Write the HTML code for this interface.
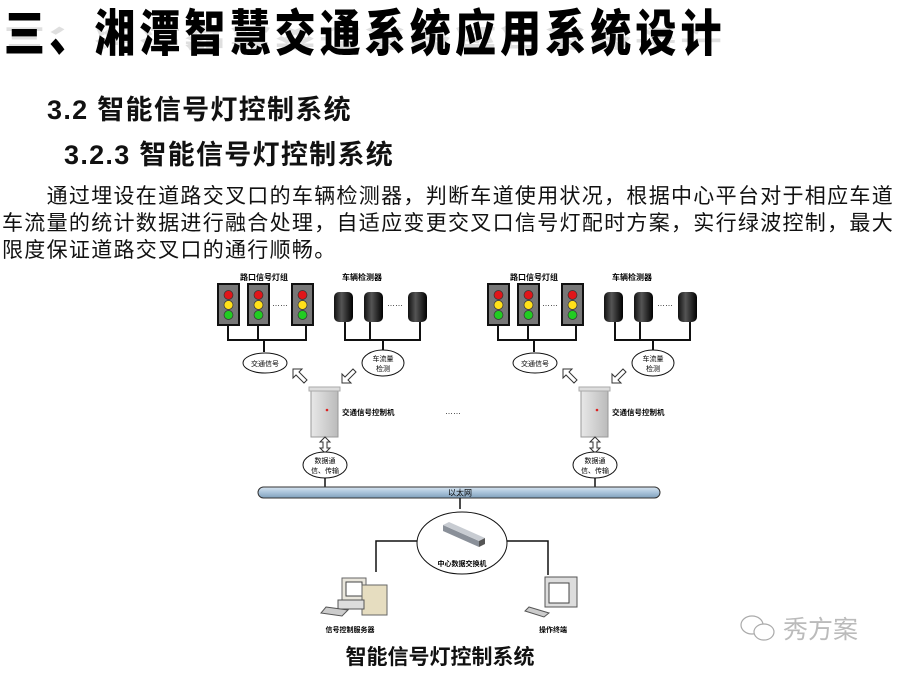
<!DOCTYPE html>
<html><head><meta charset="utf-8">
<style>
*{margin:0;padding:0}
body{width:899px;height:674px;background:#fff;position:relative;overflow:hidden;font-family:"Liberation Sans","Noto Sans CJK SC",sans-serif}
.t{position:absolute;white-space:nowrap}
#title{left:4px;top:4px;font-size:50px;font-weight:900;letter-spacing:5px;line-height:60px;color:#000;transform:scaleX(0.82);transform-origin:left top}
#refl{left:4px;top:52px;font-size:50px;font-weight:900;letter-spacing:5px;line-height:60px;color:#000;transform:scale(0.82,-0.5);transform-origin:left top;opacity:.12;height:60px;overflow:hidden}
.h{font-size:27px;font-weight:bold;letter-spacing:1.3px;line-height:36px;color:#111}
#p{left:2px;top:183px;font-size:21px;letter-spacing:1.3px;line-height:27px;color:#111}
</style></head><body>
<div class="t" id="title">三、湘潭智慧交通系统应用系统设计</div>
<div class="t" id="refl">三、湘潭智慧交通系统应用系统设计</div>
<div class="t h" style="left:47px;top:92px">3.2 智能信号灯控制系统</div>
<div class="t h" style="left:64px;top:137px">3.2.3 智能信号灯控制系统</div>
<div class="t" id="p">　　通过埋设在道路交叉口的车辆检测器，判断车道使用状况，根据中心平台对于相应车道<br>车流量的统计数据进行融合处理，自适应变更交叉口信号灯配时方案，实行绿波控制，最大<br>限度保证道路交叉口的通行顺畅。</div>

<svg width="899" height="674" style="position:absolute;left:0;top:0" font-family="Liberation Sans,Noto Sans CJK SC,sans-serif">
<defs>
<linearGradient id="cyl" x1="0" x2="1"><stop offset="0" stop-color="#111"/><stop offset=".4" stop-color="#555"/><stop offset="1" stop-color="#000"/></linearGradient>
<linearGradient id="bus" x1="0" y1="0" x2="0" y2="1"><stop offset="0" stop-color="#d6e4f0"/><stop offset=".5" stop-color="#a9c3da"/><stop offset="1" stop-color="#7f9fbb"/></linearGradient>
<linearGradient id="cab" x1="0" x2="1"><stop offset="0" stop-color="#e8e8e8"/><stop offset="1" stop-color="#bbb"/></linearGradient>
<g id="grp">
<text x="264" y="280" font-size="8" font-weight="bold" text-anchor="middle">路口信号灯组</text>
<g stroke="#111" stroke-width="2" fill="#777">
<rect x="218" y="284" width="21" height="41"/><rect x="248" y="284" width="21" height="41"/><rect x="292" y="284" width="21" height="41"/>
</g>
<g stroke="#333" stroke-width=".7">
<circle cx="228.5" cy="295" r="4.5" fill="#e0161a"/><circle cx="228.5" cy="305" r="4.5" fill="#ffe01a"/><circle cx="228.5" cy="315" r="4.5" fill="#22cc22"/>
<circle cx="258.5" cy="295" r="4.5" fill="#e0161a"/><circle cx="258.5" cy="305" r="4.5" fill="#ffe01a"/><circle cx="258.5" cy="315" r="4.5" fill="#22cc22"/>
<circle cx="302.5" cy="295" r="4.5" fill="#e0161a"/><circle cx="302.5" cy="305" r="4.5" fill="#ffe01a"/><circle cx="302.5" cy="315" r="4.5" fill="#22cc22"/>
</g>
<text x="280" y="306" font-size="8" text-anchor="middle">……</text>
<g stroke="#111" stroke-width="2" fill="none">
<path d="M228 325V340H306V325M258 325V340M264 340V352"/>
<path d="M345 322V340H420V322M370 340V322M383 340V350"/>
<path d="M325 437V452"/>
</g>
<ellipse cx="265" cy="363" rx="22" ry="10" fill="#fff" stroke="#111"/>
<text x="265" y="366" font-size="7" text-anchor="middle">交通信号</text>
<text x="362" y="280" font-size="8" font-weight="bold" text-anchor="middle">车辆检测器</text>
<g fill="url(#cyl)">
<rect x="334" y="292" width="19" height="30" rx="5"/><rect x="364" y="292" width="19" height="30" rx="5"/><rect x="408" y="292" width="19" height="30" rx="5"/>
</g>
<text x="395" y="306" font-size="8" text-anchor="middle">……</text>
<ellipse cx="383" cy="363" rx="21" ry="13" fill="#fff" stroke="#111"/>
<text x="383" y="361" font-size="7" text-anchor="middle">车流量</text>
<text x="383" y="371" font-size="7" text-anchor="middle">检测</text>
<g fill="#fff" stroke="#333" stroke-width="1">
<path d="M293 369l9 0-3 3 8 8-3 3-8-8-3 3z"/>
<path d="M342 383l0-9 3 3 8-8 3 3-8 8 3 3z"/>
</g>
<rect x="311" y="390" width="27" height="47" fill="url(#cab)" stroke="#999"/>
<rect x="309" y="387" width="31" height="4" fill="#ddd" stroke="#aaa"/>
<circle cx="327" cy="410" r="1.3" fill="#d22"/>
<text x="342" y="415" font-size="7.5" font-weight="bold">交通信号控制机</text>
<path d="M325 437l5 5h-3v6h3l-5 5-5-5h3v-6h-3z" fill="#fff" stroke="#333"/>
<ellipse cx="325" cy="465" rx="22" ry="13" fill="#fff" stroke="#111"/>
<text x="325" y="463" font-size="7" text-anchor="middle">数据通</text>
<text x="325" y="473" font-size="7" text-anchor="middle">信、传输</text>
<path d="M325 478V488" stroke="#111" stroke-width="1.5"/>
</g>
</defs>
<use href="#grp"/>
<use href="#grp" x="270"/>
<text x="453" y="414" font-size="8" text-anchor="middle">……</text>
<rect x="258" y="487" width="402" height="11" rx="5.5" fill="url(#bus)" stroke="#333"/>
<text x="460" y="495.5" font-size="8" text-anchor="middle">以太网</text>
<path d="M460 498V509M417 541H376V572M507 541H548V575" stroke="#111" stroke-width="1.5" fill="none"/>
<ellipse cx="462" cy="543" rx="45" ry="31" fill="#fff" stroke="#111"/>
<path d="M443 525l36 16v6l-36-16z" fill="#8a9099"/><path d="M443 525l6-3 36 16-6 3z" fill="#c8ccd2"/>
<path d="M479 541l6-3v6l-6 3z" fill="#555"/>
<text x="462" y="566" font-size="7" font-weight="bold" text-anchor="middle">中心数据交换机</text>
<rect x="342" y="578" width="24" height="24" fill="#e9e6dc" stroke="#666"/>
<rect x="346" y="582" width="16" height="14" fill="#fff" stroke="#444"/>
<rect x="362" y="585" width="25" height="30" fill="#e6ddc0" stroke="#666"/>
<rect x="338" y="600" width="26" height="9" fill="#ddd" stroke="#555"/>
<path d="M326 607l22 3-6 6-21-3z" fill="#ccc" stroke="#555"/>
<text x="350" y="632" font-size="7" font-weight="bold" text-anchor="middle">信号控制服务器</text>
<rect x="545" y="577" width="32" height="30" fill="#ddd" stroke="#555"/>
<rect x="549" y="583" width="20" height="20" fill="#fff" stroke="#444"/>
<path d="M529 607l20 6-5 4-19-6z" fill="#ccc" stroke="#555"/>
<text x="553" y="632" font-size="7" font-weight="bold" text-anchor="middle">操作终端</text>
<text x="440" y="664" font-size="21" font-weight="bold" text-anchor="middle" fill="#111">智能信号灯控制系统</text>
<g fill="none" stroke="#aaa" stroke-width="1.2">
<ellipse cx="752" cy="625" rx="11" ry="9"/><ellipse cx="764" cy="632" rx="10" ry="8" fill="#fff"/>
</g>
<text x="783" y="638" font-size="25" fill="#bbb">秀方案</text>
</svg>
</body></html>
